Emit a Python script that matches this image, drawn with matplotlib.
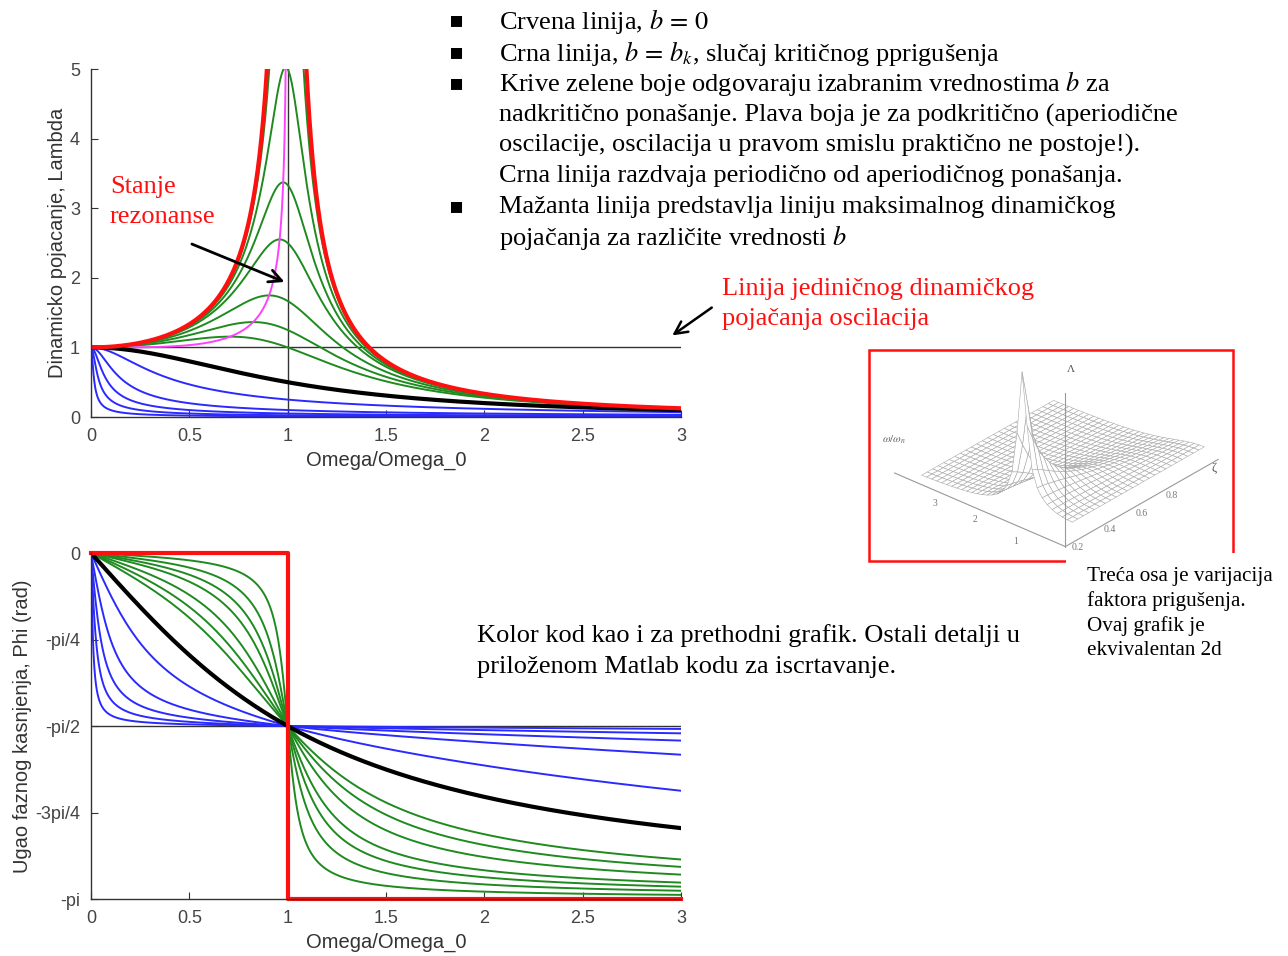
import matplotlib
matplotlib.use('Agg')
import matplotlib.pyplot as plt
from matplotlib.patches import Rectangle
import numpy as np

plt.rcParams['mathtext.fontset'] = 'stix'

# damping values (b / b_k)
green_b = [0.05, 0.1, 0.15, 0.2, 0.3, 0.4, 0.5]
blue_b = [2, 5, 10, 20, 50]
critical_b = 1.0
red_b = 0.0

x_ticks = [0, 0.5, 1, 1.5, 2, 2.5, 3]
x_tick_labels = ['0', '0.5', '1', '1.5', '2', '2.5', '3']
amp_ticks = [0, 1, 2, 3, 4, 5]
phase_ticks = [0, -np.pi / 4, -np.pi / 2, -3 * np.pi / 4, -np.pi]
phase_tick_labels = ['0', '-pi/4', '-pi/2', '-3pi/4', '-pi']

bullet_lines = [
    ('Crvena linija, $b\\,=\\,0$', True),
    ('Crna linija, $b\\,=\\,b_k$, slučaj kritičnog pprigušenja', True),
    ('Krive zelene boje odgovaraju izabranim vrednostima $b$ za', True),
    ('nadkritično ponašanje. Plava boja je za podkritično (aperiodične', False),
    ('oscilacije, oscilacija u pravom smislu praktično ne postoje!).', False),
    ('Crna linija razdvaja periodično od aperiodičnog ponašanja.', False),
    ('Mažanta linija predstavlja liniju maksimalnog dinamičkog', True),
    ('pojačanja za različite vrednosti $b$', False),
]

# inset surface: frequency ratio and damping grid
inset_r = np.linspace(0, 3, 31)
inset_b = np.linspace(0.05, 1.0, 25)
inset_r_labels = ['1', '2', '3']
inset_b_labels = ['0.2', '0.4', '0.6', '0.8']

W, H = 1288, 956
fig = plt.figure(figsize=(W / 100, H / 100), dpi=100)


def fx(px):
    return px / W


def fy(py):
    return 1 - py / H


r = np.linspace(0, 3, 3001)


def amp(z):
    return 1.0 / np.sqrt((1 - r ** 2) ** 2 + (2 * z * r) ** 2)


def phase(z):
    return -np.arctan2(2 * z * r, 1 - r ** 2)


GREEN = '#1f8a1f'
BLUE = '#2a2aff'
RED = '#ff1010'
tick_col = '#444444'
sans = ['Liberation Sans', 'DejaVu Sans']
serif = ['Liberation Serif', 'DejaVu Serif']
TXT = 19


def style(ax):
    ax.spines['top'].set_visible(False)
    ax.spines['right'].set_visible(False)
    for s in ['left', 'bottom']:
        ax.spines[s].set_color('#333333')
        ax.spines[s].set_linewidth(1.0)
    ax.tick_params(direction='in', length=5, colors='#333333', labelcolor=tick_col, labelsize=13, pad=8)
    ax.set_xlim(0, 3)
    ax.set_xticks(x_ticks)
    ax.set_xticklabels(x_tick_labels, family=sans)


# ---- top: dynamic amplification ----
ax1 = fig.add_axes([fx(91), fy(417), fx(681) - fx(91), fy(69) - fy(417)])
ax1.plot([0, 3], [1, 1], color='#333333', lw=1.0)
ax1.plot([1, 1], [0, 5], color='#333333', lw=1.0)
for b in blue_b:
    ax1.plot(r, amp(b), color=BLUE, lw=1.4)
for b in green_b:
    ax1.plot(r, amp(b), color=GREEN, lw=1.4)
# locus of maxima (magenta)
zz = np.linspace(0.001, 1 / np.sqrt(2), 600)
ax1.plot(np.sqrt(1 - 2 * zz ** 2), 1 / (2 * zz * np.sqrt(1 - zz ** 2)), color='#ff40ff', lw=1.4)
ax1.plot(r, amp(critical_b), color='black', lw=3)
with np.errstate(divide='ignore'):
    ax1.plot(r, amp(red_b), color=RED, lw=3)
ax1.set_ylim(0, 5)
ax1.set_yticks(amp_ticks)
ax1.set_yticklabels([str(t) for t in amp_ticks], family=sans)
style(ax1)
ax1.set_xlabel('Omega/Omega_0', fontsize=14.5, color='#333333', family=sans, labelpad=4)
ax1.set_ylabel('Dinamicko pojacanje, Lambda', fontsize=14.5, color='#333333', family=sans, labelpad=2)

fig.text(fx(110), fy(187), 'Stanje', color=RED, fontsize=TXT, family=serif, va='center')
fig.text(fx(110), fy(217), 'rezonanse', color=RED, fontsize=TXT, family=serif, va='center')
ax1.annotate('', xy=(0.997, 1.925), xytext=(0.50, 2.5),
             arrowprops=dict(arrowstyle='->,head_length=0.9,head_width=0.45', lw=2, color='black'))
ax1.annotate('', xy=(2.944, 1.149), xytext=(3.168, 1.595), annotation_clip=False,
             arrowprops=dict(arrowstyle='->,head_length=0.9,head_width=0.45', lw=1.8, color='black'))

# ---- bottom: phase ----
ax2 = fig.add_axes([fx(91), fy(899), fx(681) - fx(91), fy(553) - fy(899)])
ax2.plot([0, 3], [-np.pi / 2, -np.pi / 2], color='#333333', lw=1.0)
for b in blue_b:
    ax2.plot(r, phase(b), color=BLUE, lw=1.4)
for b in green_b:
    ax2.plot(r, phase(b), color=GREEN, lw=1.4)
ax2.plot(r, phase(critical_b), color='black', lw=3)
ax2.plot([0, 1, 1, 3], [0, 0, -np.pi, -np.pi], color=RED, lw=3, clip_on=False)
ax2.set_ylim(-np.pi, 0)
ax2.set_yticks(phase_ticks)
ax2.set_yticklabels(phase_tick_labels, family=sans)
style(ax2)
ax2.set_xlabel('Omega/Omega_0', fontsize=14.5, color='#333333', family=sans, labelpad=4)
ax2.set_ylabel('Ugao faznog kasnjenja, Phi (rad)', fontsize=14.5, color='#333333', family=sans, labelpad=2)

# ---- text blocks ----
ys = [21, 53, 84, 115, 145, 176, 207, 237]
for (txt, bullet), y in zip(bullet_lines, ys):
    if bullet:
        fig.text(fx(457), fy(y - 1), '\u25aa', fontsize=16, family=['DejaVu Sans'], va='center', ha='center')
    fig.text(fx(499), fy(y), txt, fontsize=TXT, family=serif, va='center', ha='left')

fig.text(fx(722), fy(289), 'Linija jediničnog dinamičkog', color=RED, fontsize=TXT, family=serif, va='center')
fig.text(fx(722), fy(319), 'pojačanja oscilacija', color=RED, fontsize=TXT, family=serif, va='center')

fig.text(fx(477), fy(636), 'Kolor kod kao i za prethodni grafik. Ostali detalji u', fontsize=TXT, family=serif, va='center')
fig.text(fx(477), fy(667), 'priloženom Matlab kodu za iscrtavanje.', fontsize=TXT, family=serif, va='center')

side = ['Treća osa je varijacija', 'faktora prigušenja.', 'Ovaj grafik je', 'ekvivalentan 2d']
for i, s in enumerate(side):
    fig.text(fx(1087), fy(577 + i * 24.5), s, fontsize=15.2, family=serif, va='center')

# ---- inset: 3d surface in red frame ----
ax3 = fig.add_axes([fx(791), fy(595), fx(1311) - fx(791), fy(195) - fy(595)], projection='3d')
ax3.patch.set_alpha(0)
ax3.computed_zorder = False
Z, R = np.meshgrid(inset_b, inset_r)
A = np.clip(1.0 / np.sqrt((1 - R ** 2) ** 2 + (2 * Z * R) ** 2), 0, 7.3)
ax3.plot_surface(Z, R, A, color='white', edgecolor='#a8a8a8', lw=0.4, shade=False, antialiased=True, zorder=1)
ax3.plot([0, 1.1], [0, 0], [0, 0], color='#999999', lw=0.8, zorder=2)
ax3.plot([0, 0], [0, 3.4], [0, 0], color='#999999', lw=0.8, zorder=2)
ax3.plot([0, 0], [0, 0], [0, 7.5], color='#999999', lw=0.8, zorder=2)
ax3.set_xlim(0, 1.1)
ax3.set_ylim(0, 3.4)
ax3.set_zlim(0, 7.5)
ax3.set_proj_type('ortho')
ax3.view_init(elev=29.7, azim=-139)
ax3.set_axis_off()
ax3.set_box_aspect((1.03, 1.0, 0.78), zoom=0.897)

# frame drawn above the surface; white patch hides the lower right corner
fig.patches.append(Rectangle((fx(869), fy(561)), fx(1233) - fx(869), fy(350) - fy(561),
                             transform=fig.transFigure, fill=False, edgecolor=RED, lw=1.8))
fig.patches.append(Rectangle((fx(1066), fy(565)), fx(1240) - fx(1066), fy(553) - fy(565),
                             transform=fig.transFigure, fill=True, facecolor='white', edgecolor='none'))

lab_col = '#777777'
for s, (px, py) in zip(inset_r_labels, [(1016, 541), (975, 520), (935, 503)]):
    fig.text(fx(px), fy(py), s, fontsize=7, color=lab_col, family=serif, ha='center', va='center')
for s, (px, py) in zip(inset_b_labels, [(1078, 547), (1110, 530), (1142, 513), (1172, 496)]):
    fig.text(fx(px), fy(py), s, fontsize=7, color=lab_col, family=serif, ha='center', va='center')
fig.text(fx(1214), fy(468), '\u03b6', fontsize=9, color='#555555', family=serif, ha='center', va='center')
fig.text(fx(1071), fy(369), '\u039b', fontsize=8, color='#555555', family=serif, ha='center', va='center')
fig.text(fx(894), fy(440), '$\\omega / \\omega_n$', fontsize=8, color='#666666', ha='center', va='center')

fig.savefig('out.png', dpi=100)
